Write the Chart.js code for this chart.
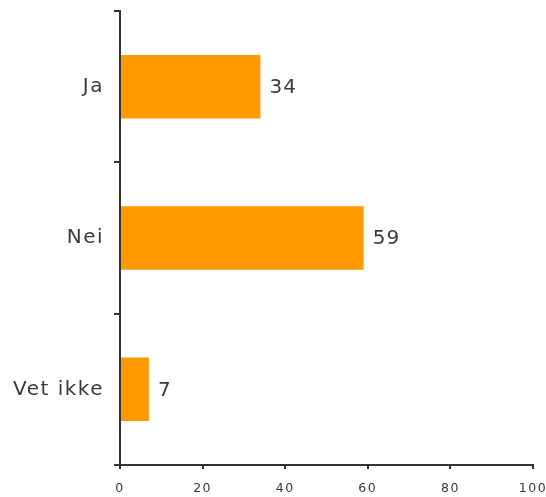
<!DOCTYPE html>
<html>
<head>
<meta charset="utf-8">
<script src="https://cdn.jsdelivr.net/npm/chart.js@4/dist/chart.umd.min.js"></script>
<style>
  html, body { margin: 0; padding: 0; background: #fff; }
  canvas { display: block; }
</style>
</head>
<body>
<canvas id="chart" width="546" height="497"></canvas>
<script>
const CATEGORIES = ["Ja", "Nei", "Vet ikke"];
const VALUES = [34, 59, 7];
const X_TICKS = [0, 20, 40, 60, 80, 100];

const BAR_COLOR = "#FF9900";
const TEXT_COLOR = "#3a3a3a";
const AXIS_COLOR = "#333333";

// wide-ish tracking on all text, set before measuring and drawing
const tracking = {
  id: "tracking",
  beforeLayout(chart) { chart.ctx.letterSpacing = "1.5px"; },
  beforeDraw(chart) { chart.ctx.letterSpacing = "1.5px"; }
};

// value next to the end of each bar
const valueLabels = {
  id: "valueLabels",
  afterDatasetsDraw(chart) {
    const ctx = chart.ctx;
    const meta = chart.getDatasetMeta(0);
    ctx.save();
    ctx.letterSpacing = "1px";
    ctx.font = "20px 'DejaVu Sans'";
    ctx.fillStyle = TEXT_COLOR;
    ctx.textAlign = "left";
    ctx.textBaseline = "middle";
    meta.data.forEach((bar, i) => {
      ctx.fillText(String(VALUES[i]), bar.x + 9, bar.y + 1);
    });
    ctx.restore();
  }
};

new Chart(document.getElementById("chart"), {
  type: "bar",
  data: {
    labels: CATEGORIES,
    datasets: [{
      data: VALUES,
      backgroundColor: BAR_COLOR,
      borderWidth: 0,
      categoryPercentage: 1,
      barPercentage: 0.42
    }]
  },
  options: {
    indexAxis: "y",
    responsive: false,
    animation: false,
    layout: { padding: { top: 11, right: 13, left: 0, bottom: 0 } },
    plugins: {
      legend: { display: false },
      tooltip: { enabled: false }
    },
    scales: {
      x: {
        min: 0,
        max: 100,
        afterBuildTicks: s => { s.ticks = X_TICKS.map(v => ({ value: v })); },
        afterFit: s => { s.height = 32; s.paddingLeft = 0; s.paddingRight = 0; },
        border: { color: AXIS_COLOR, width: 2 },
        grid: { drawOnChartArea: false, tickLength: 4, color: AXIS_COLOR, lineWidth: 2 },
        ticks: {
          color: TEXT_COLOR,
          font: { family: "DejaVu Sans", size: 12.5 },
          padding: 12,
          maxRotation: 0
        }
      },
      y: {
        afterFit: s => { s.width = 120; s.paddingTop = 0; s.paddingBottom = 0; },
        border: { color: AXIS_COLOR, width: 2 },
        grid: { offset: true, drawOnChartArea: false, tickLength: 6, color: AXIS_COLOR, lineWidth: 2 },
        ticks: {
          color: TEXT_COLOR,
          font: { family: "DejaVu Sans", size: 20 },
          padding: 10
        }
      }
    }
  },
  plugins: [tracking, valueLabels]
});
</script>
</body>
</html>
